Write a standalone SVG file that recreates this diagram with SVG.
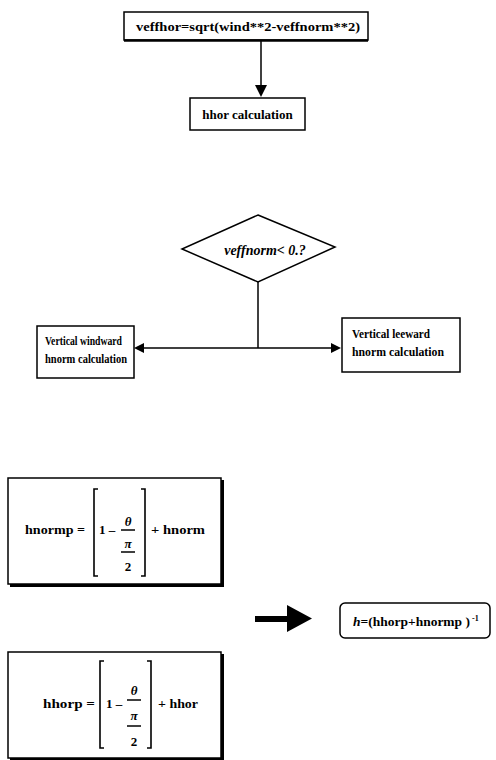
<svg xmlns="http://www.w3.org/2000/svg" width="496" height="760" viewBox="0 0 496 760">
<defs>
<style>
.box{fill:#fff;stroke:#000;stroke-width:1.5}
.t{font-family:"Liberation Serif","Times New Roman",serif;font-weight:bold;fill:#000}
.ln{stroke:#000;stroke-width:1.5;fill:none}
.br{stroke:#000;stroke-width:1.6;fill:none}
</style>
</defs>
<rect width="496" height="760" fill="#fff"/>

<g id="connectors">
<line class="ln" x1="261" y1="41" x2="261" y2="86"/>
<path d="M255,85 L267,85 L261,97 Z" fill="#000"/>
<line class="ln" x1="258" y1="282" x2="258" y2="348"/>
<line class="ln" x1="142" y1="348" x2="333" y2="348"/>
<path d="M134,348 L144,343 L144,353 Z" fill="#000"/>
<path d="M341,348 L331,343 L331,353 Z" fill="#000"/>
<path d="M255,616 L287,616 L287,605 L312,618.5 L287,632 L287,622 L255,622 Z" fill="#000"/>
</g>

<g id="node-veffhor">
<rect class="box" x="124" y="12" width="244" height="28"/>
<line x1="124" y1="40.5" x2="368" y2="40.5" stroke="#000" stroke-width="2.5"/>
<text class="t" x="136" y="31" font-size="13" textLength="224" lengthAdjust="spacingAndGlyphs">veffhor=sqrt(wind**2-veffnorm**2)</text>
</g>

<g id="node-hhor">
<rect class="box" x="190" y="98" width="115" height="32"/>
<text class="t" x="247.5" y="119" font-size="13" text-anchor="middle">hhor calculation</text>
</g>

<g id="node-decision">
<polygon class="box" points="258,215 335,247 258,282 182,249"/>
<text x="265" y="255" font-family="'Liberation Serif','Times New Roman',serif" font-style="italic" font-weight="bold" font-size="14" text-anchor="middle">veffnorm&lt; 0.?</text>
</g>

<g id="node-windward">
<rect class="box" x="37" y="326" width="97" height="52"/>
<text class="t" x="45" y="345" font-size="11.5" textLength="77" lengthAdjust="spacingAndGlyphs">Vertical windward</text>
<text class="t" x="45" y="363" font-size="11.5" textLength="82" lengthAdjust="spacingAndGlyphs">hnorm calculation</text>
</g>

<g id="node-leeward">
<rect class="box" x="342" y="318" width="118" height="54"/>
<text class="t" x="352" y="338" font-size="11.5" textLength="78" lengthAdjust="spacingAndGlyphs">Vertical leeward</text>
<text class="t" x="352" y="356" font-size="11.5" textLength="92" lengthAdjust="spacingAndGlyphs">hnorm calculation</text>
</g>

<g id="node-hnormp">
<rect x="10" y="480" width="214" height="107" fill="#000"/>
<rect class="box" x="8" y="478" width="213" height="106"/>
<text class="t" x="25" y="534" font-size="13" textLength="60" lengthAdjust="spacingAndGlyphs">hnormp =</text>
<path class="br" d="M98,489 L94,489 L94,576 L98,576"/>
<path class="br" d="M141,489 L145,489 L145,576 L141,576"/>
<text class="t" x="99" y="534" font-size="13">1 –</text>
<text class="t" x="128" y="526" font-size="13" font-style="italic" text-anchor="middle">θ</text>
<line class="ln" x1="121" y1="530" x2="135" y2="530" stroke-width="1"/>
<text class="t" x="128" y="548" font-size="13" font-style="italic" text-anchor="middle">π</text>
<line class="ln" x1="121" y1="552" x2="135" y2="552" stroke-width="1"/>
<text class="t" x="128" y="571" font-size="13" text-anchor="middle">2</text>
<text class="t" x="151" y="534" font-size="13" textLength="54" lengthAdjust="spacingAndGlyphs">+ hnorm</text>
</g>

<g id="node-hhorp">
<rect x="10" y="654" width="214" height="106" fill="#000"/>
<rect class="box" x="8" y="652" width="213" height="106"/>
<text class="t" x="43" y="708" font-size="13" textLength="52" lengthAdjust="spacingAndGlyphs">hhorp =</text>
<path class="br" d="M104,661 L100,661 L100,748 L104,748"/>
<path class="br" d="M147,661 L151,661 L151,748 L147,748"/>
<text class="t" x="106" y="708" font-size="13">1 –</text>
<text class="t" x="134" y="695" font-size="13" font-style="italic" text-anchor="middle">θ</text>
<line class="ln" x1="127" y1="700" x2="141" y2="700" stroke-width="1"/>
<text class="t" x="134" y="720" font-size="13" font-style="italic" text-anchor="middle">π</text>
<line class="ln" x1="127" y1="726" x2="141" y2="726" stroke-width="1"/>
<text class="t" x="134" y="746" font-size="13" text-anchor="middle">2</text>
<text class="t" x="158" y="708" font-size="13" textLength="40" lengthAdjust="spacingAndGlyphs">+ hhor</text>
</g>

<g id="node-h">
<rect class="box" x="340" y="603" width="150" height="35" rx="5"/>
<text class="t" x="353" y="626" font-size="12.5" textLength="117" lengthAdjust="spacingAndGlyphs"><tspan font-style="italic">h</tspan>=(hhorp+hnormp )</text>
<text class="t" x="472" y="621" font-size="8">-1</text>
</g>
</svg>
